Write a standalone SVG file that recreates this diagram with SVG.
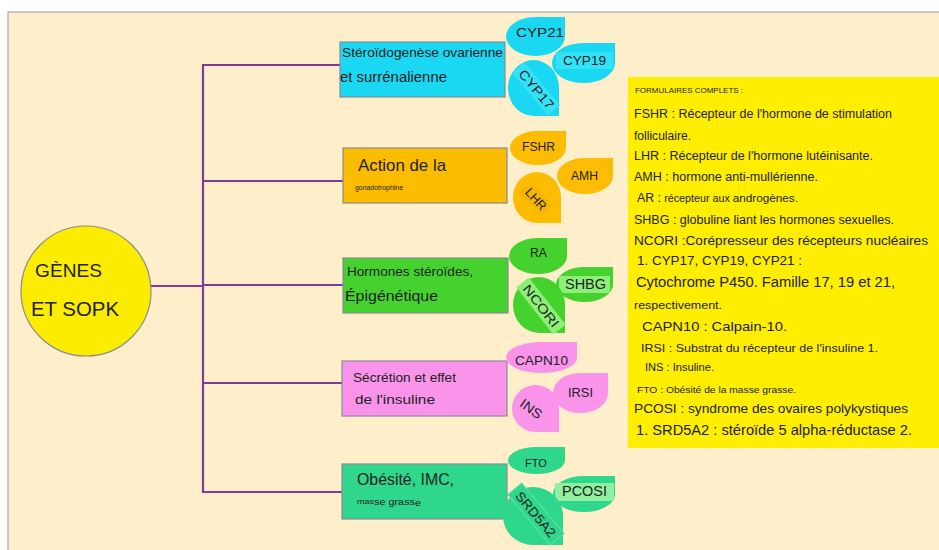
<svg xmlns="http://www.w3.org/2000/svg" width="939" height="550" viewBox="0 0 939 550">
<style>
text{font-family:"Liberation Sans",Arial,sans-serif;fill:#222}
.conn{fill:none;stroke:#7d3c98;stroke-width:2.2}
.box{stroke:#8a8a9a;stroke-width:1.2}
.c1{fill:#1ad8f2}.c1l{fill:#34e2f7}
.c2{fill:#fcbc00}.c2l{fill:#f5b600}
.c3{fill:#45d22e}.c3l{fill:#8eef78}
.c4{fill:#f994ea}
.c5{fill:#2ed78b}.c5l{fill:#8ff0a0}
.lc{text-anchor:middle}
</style>
<rect x="0" y="0" width="939" height="550" fill="#ffffff"/>
<rect x="8" y="12" width="940" height="545" fill="#feeec9" stroke="#b8b8c4" stroke-width="1.5"/>

<g id="connectors">
<path class="conn" d="M151 286 H203"/>
<path class="conn" d="M340 65 H203 V492 H342"/>
<path class="conn" d="M203 181 H343"/>
<path class="conn" d="M203 285 H343"/>
<path class="conn" d="M203 383 H342"/>
</g>

<g id="root">
<circle cx="86" cy="291" r="65" fill="#fcec00" stroke="#8c8c8c" stroke-width="1.2"/>
<text x="35" y="277" font-size="19" textLength="67" lengthAdjust="spacingAndGlyphs">GÈNES</text>
<text x="31" y="316" font-size="19.5" textLength="88" lengthAdjust="spacingAndGlyphs">ET SOPK</text>
</g>

<g id="n1">
<rect class="box c1" x="340" y="42" width="165" height="55"/>
<text x="342" y="57" font-size="13" textLength="161" lengthAdjust="spacingAndGlyphs">Stéroïdogenèse ovarienne</text>
<text x="340" y="82" font-size="14" textLength="107" lengthAdjust="spacingAndGlyphs">et surrénalienne</text>
</g>
<g id="n1a">
<path class="c1" d="M565 17 L565 36.5 A29.5 19.5 0 0 1 535.5 56 A29.5 19.5 0 0 1 506 36.5 A29.5 19.5 0 0 1 535.5 17 Z"/>
<text x="516" y="37" font-size="13.5" textLength="48" lengthAdjust="spacingAndGlyphs">CYP21</text>
</g>
<g id="n1b">
<path class="c1" d="M615 43 L615 63 A31.5 20 0 0 1 583.5 83 A31.5 20 0 0 1 552 63 A31.5 20 0 0 1 583.5 43 Z"/>
<rect class="c1l" x="556" y="52" width="57" height="17"/>
<text x="563" y="65" font-size="13.5" textLength="43" lengthAdjust="spacingAndGlyphs">CYP19</text>
</g>
<g id="n1c">
<path class="c1" d="M559 116 L533.5 116 A25.5 28 0 0 1 508 88 A25.5 28 0 0 1 533.5 60 A25.5 28 0 0 1 559 88 Z"/>
<g transform="translate(536 89) rotate(50)">
<rect class="c1l" x="-28" y="-8" width="56" height="16"/>
<text x="-23" y="4.5" font-size="13" textLength="47" lengthAdjust="spacingAndGlyphs">CYP17</text>
</g>
</g>

<g id="n2">
<rect class="box c2" x="343" y="148" width="164" height="55"/>
<text x="358" y="171" font-size="17" textLength="88" lengthAdjust="spacingAndGlyphs">Action de la</text>
<text x="355" y="190" font-size="6.5" textLength="48" lengthAdjust="spacingAndGlyphs">gonadotrophine</text>
</g>
<g id="n2a">
<path class="c2" d="M566 131 L566 148 A28 17 0 0 1 538 165 A28 17 0 0 1 510 148 A28 17 0 0 1 538 131 Z"/>
<text x="522" y="151" font-size="12.5" textLength="33" lengthAdjust="spacingAndGlyphs">FSHR</text>
</g>
<g id="n2b">
<path class="c2" d="M613 158 L613 176 A28 18 0 0 1 585 194 A28 18 0 0 1 557 176 A28 18 0 0 1 585 158 Z"/>
<text x="571" y="180" font-size="12.5" textLength="27" lengthAdjust="spacingAndGlyphs">AMH</text>
</g>
<g id="n2c">
<path class="c2" d="M561 223 L537 223 A24 25.5 0 0 1 513 197.5 A24 25.5 0 0 1 537 172 A24 25.5 0 0 1 561 197.5 Z"/>
<g transform="translate(536 199) rotate(48)">
<rect class="c2l" x="-16" y="-8" width="32" height="16"/>
<text x="-12.5" y="4.5" font-size="12.5" textLength="25" lengthAdjust="spacingAndGlyphs">LHR</text>
</g>
</g>

<g id="n3">
<rect class="box c3" x="343" y="258" width="165" height="55"/>
<text x="347" y="276" font-size="13.5" textLength="126" lengthAdjust="spacingAndGlyphs">Hormones stéroïdes,</text>
<text x="345" y="301" font-size="15.5" textLength="93" lengthAdjust="spacingAndGlyphs">Épigénétique</text>
</g>
<g id="n3a">
<path class="c3" d="M567 238 L567 256 A29 18 0 0 1 538 274 A29 18 0 0 1 509 256 A29 18 0 0 1 538 238 Z"/>
<text x="530" y="257" font-size="12.5" textLength="17" lengthAdjust="spacingAndGlyphs">RA</text>
</g>
<g id="n3b">
<path class="c3" d="M613 267 L613 284.5 A28.5 17.5 0 0 1 584.5 302 A28.5 17.5 0 0 1 556 284.5 A28.5 17.5 0 0 1 584.5 267 Z"/>
<rect class="c3l" x="559" y="276" width="51" height="17"/>
<text x="565" y="289" font-size="14" textLength="41" lengthAdjust="spacingAndGlyphs">SHBG</text>
</g>
<g id="n3c">
<path class="c3" d="M565 333 L539 333 A26 28 0 0 1 513 305 A26 28 0 0 1 539 277 A26 28 0 0 1 565 305 Z"/>
<g transform="translate(541 306) rotate(52)">
<rect class="c3l" x="-30" y="-8" width="60" height="16"/>
<text x="-25" y="4.5" font-size="13" textLength="50" lengthAdjust="spacingAndGlyphs">NCORI</text>
</g>
</g>

<g id="n4">
<rect class="box c4" x="342" y="361" width="165" height="55"/>
<text x="353" y="382" font-size="13.5" textLength="103" lengthAdjust="spacingAndGlyphs">Sécrétion et effet</text>
<text x="355" y="404" font-size="13.5" textLength="80" lengthAdjust="spacingAndGlyphs">de l'insuline</text>
</g>
<g id="n4a">
<path class="c4" d="M577 342 L577 357.5 A35.5 15.5 0 0 1 541.5 373 A35.5 15.5 0 0 1 506 357.5 A35.5 15.5 0 0 1 541.5 342 Z"/>
<text x="515" y="365" font-size="13.5" textLength="53" lengthAdjust="spacingAndGlyphs">CAPN10</text>
</g>
<g id="n4b">
<path class="c4" d="M608 373 L608 393 A27.5 20 0 0 1 580.5 413 A27.5 20 0 0 1 553 393 A27.5 20 0 0 1 580.5 373 Z"/>
<text x="568" y="397" font-size="13" textLength="25" lengthAdjust="spacingAndGlyphs">IRSI</text>
</g>
<g id="n4c">
<path class="c4" d="M559 432 L535.5 432 A23.5 23.5 0 0 1 512 408.5 A23.5 23.5 0 0 1 535.5 385 A23.5 23.5 0 0 1 559 408.5 Z"/>
<text x="-12" y="4.5" font-size="13.5" textLength="24" lengthAdjust="spacingAndGlyphs" transform="translate(531 409) rotate(36)">INS</text>
</g>

<g id="n5">
<rect class="box c5" x="342" y="464" width="165" height="55"/>
<text x="357" y="485" font-size="16" textLength="97" lengthAdjust="spacingAndGlyphs">Obésité, IMC,</text>
<text x="357" y="505" font-size="9" textLength="64" lengthAdjust="spacingAndGlyphs"><tspan font-size="7.5" dy="-1">mas</tspan><tspan font-size="9" dy="1">se grass</tspan><tspan font-size="9" dy="1">e</tspan></text>
</g>
<g id="n5a">
<path class="c5" d="M565 447 L565 460.5 A28.5 13.5 0 0 1 536.5 474 A28.5 13.5 0 0 1 508 460.5 A28.5 13.5 0 0 1 536.5 447 Z"/>
<text x="525" y="467" font-size="11" textLength="22" lengthAdjust="spacingAndGlyphs">FTO</text>
</g>
<g id="n5b">
<path class="c5" d="M615 476 L615 494 A31 18 0 0 1 584 512 A31 18 0 0 1 553 494 A31 18 0 0 1 584 476 Z"/>
<rect class="c5l" x="555" y="483" width="59" height="18"/>
<text x="562" y="496" font-size="14.5" textLength="45" lengthAdjust="spacingAndGlyphs">PCOSI</text>
</g>
<g id="n5c">
<path class="c5" d="M563 545 L533 545 A30 29 0 0 1 503 516 A30 29 0 0 1 533 487 A30 29 0 0 1 563 516 Z"/>
<g transform="translate(536 514) rotate(50)">
<rect class="c5" x="-33" y="-9" width="66" height="18" stroke="#5fe3a8" stroke-width="1"/>
<text x="-27.5" y="5" font-size="13" textLength="55" lengthAdjust="spacingAndGlyphs">SRD5A2</text>
</g>
</g>

<g id="legend">
<rect x="628" y="77" width="311" height="371" fill="#ffee00"/>
<text x="635" y="93" font-size="6.5" textLength="108" lengthAdjust="spacingAndGlyphs">FORMULAIRES COMPLETS :</text>
<text x="634" y="118" font-size="12.5" textLength="258" lengthAdjust="spacingAndGlyphs">FSHR : Récepteur de l'hormone de stimulation</text>
<text x="634" y="140" font-size="12" textLength="57" lengthAdjust="spacingAndGlyphs">folliculaire.</text>
<text x="634" y="160" font-size="12.5" textLength="239" lengthAdjust="spacingAndGlyphs">LHR : Récepteur de l'hormone lutéinisante.</text>
<text x="634" y="181" font-size="12.5" textLength="184" lengthAdjust="spacingAndGlyphs">AMH : hormone anti-mullérienne.</text>
<text x="637" y="202" font-size="12" textLength="161" lengthAdjust="spacingAndGlyphs">AR : <tspan font-size="10.5">récepteur aux </tspan><tspan font-size="11.5">androgènes.</tspan></text>
<text x="634" y="224" font-size="12.5" textLength="260" lengthAdjust="spacingAndGlyphs">SHBG : globuline liant les hormones sexuelles.</text>
<text x="634" y="245" font-size="13.7" textLength="294" lengthAdjust="spacingAndGlyphs">NCORI :Corépresseur des récepteurs nucléaires</text>
<text x="637" y="265" font-size="12.7" textLength="165" lengthAdjust="spacingAndGlyphs">1. CYP17, CYP19, CYP21 :</text>
<text x="636" y="287" font-size="14.7" textLength="259" lengthAdjust="spacingAndGlyphs">Cytochrome P450. Famille 17, 19 et 21,</text>
<text x="634" y="309" font-size="11" textLength="88" lengthAdjust="spacingAndGlyphs">respectivement.</text>
<text x="642" y="331" font-size="13.5" textLength="145" lengthAdjust="spacingAndGlyphs">CAPN10 : Calpain-10.</text>
<text x="641" y="352" font-size="11" textLength="237" lengthAdjust="spacingAndGlyphs">IRSI : Substrat du récepteur de l'insuline 1.</text>
<text x="645" y="371" font-size="10" textLength="69" lengthAdjust="spacingAndGlyphs">INS : Insuline.</text>
<text x="637" y="393" font-size="8.8" textLength="159" lengthAdjust="spacingAndGlyphs">FTO : Obésité de la masse grasse.</text>
<text x="634" y="413" font-size="13.5" textLength="274" lengthAdjust="spacingAndGlyphs">PCOSI : syndrome des ovaires polykystiques</text>
<text x="636" y="435" font-size="14.5" textLength="276" lengthAdjust="spacingAndGlyphs">1. SRD5A2 : stéroïde 5 alpha-réductase 2.</text>
</g>
</svg>
